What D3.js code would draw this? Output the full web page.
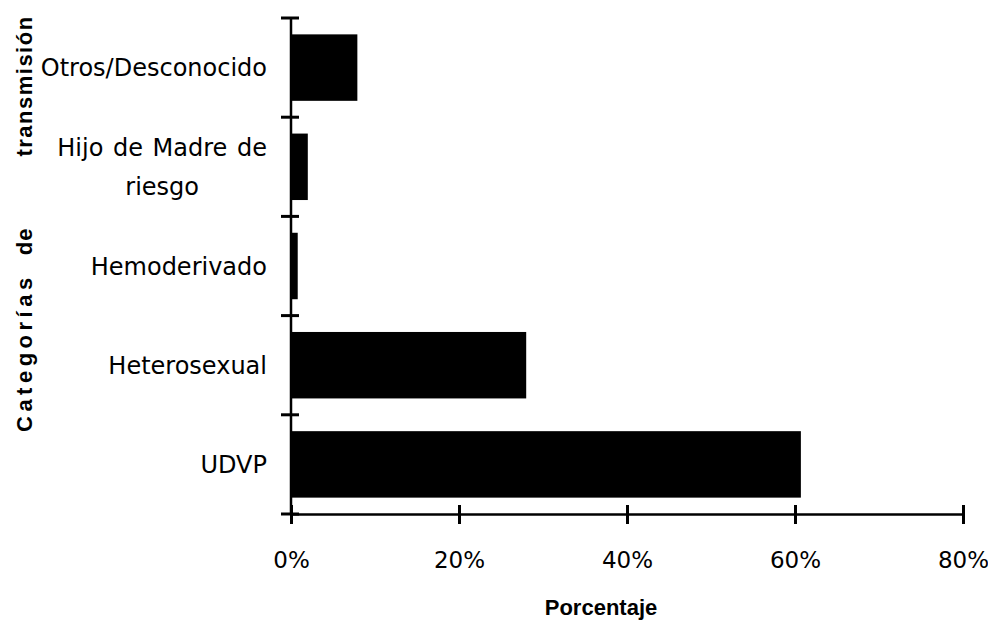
<!DOCTYPE html>
<html>
<head>
<meta charset="utf-8">
<script src="https://cdn.jsdelivr.net/npm/d3@7"></script>
<style>
  html, body { margin: 0; padding: 0; background: #fff; }
  svg { display: block; }
</style>
</head>
<body>
<svg id="chart" width="988" height="625"></svg>
<script>
// ---- data ----
const categories = ["Otros/Desconocido", "Hijo de Madre de\nriesgo", "Hemoderivado", "Heterosexual", "UDVP"];
const values = [7.9, 2.0, 0.8, 28.0, 60.7];
const xTicks = [0, 20, 40, 60, 80];
const xTitle = "Porcentaje";
const yTitleWords = ["Categorías", "de", "transmisión"];

// ---- layout ----
const svg = d3.select("#chart");
const plotLeft = 291, plotRight = 963, plotTop = 18, plotBottom = 514;

const x = d3.scaleLinear().domain([0, 80]).range([plotLeft, plotRight]);
const y = d3.scaleBand().domain(categories).range([plotTop, plotBottom]).paddingInner(0.33).paddingOuter(0.165);

// bars
svg.append("g").selectAll("rect").data(categories).join("rect")
  .attr("x", x(0))
  .attr("y", d => y(d))
  .attr("width", (d, i) => x(values[i]) - x(0))
  .attr("height", y.bandwidth())
  .attr("fill", "#000");

// y axis line
svg.append("line").attr("x1", plotLeft).attr("x2", plotLeft).attr("y1", plotTop).attr("y2", plotBottom)
  .attr("stroke", "#000").attr("stroke-width", 2.5);
// y axis ticks at band boundaries
const yBounds = d3.range(categories.length + 1).map(i => plotTop + i * (plotBottom - plotTop) / categories.length);
svg.append("g").selectAll("line").data(yBounds).join("line")
  .attr("x1", plotLeft - 10).attr("x2", plotLeft + 8)
  .attr("y1", d => d).attr("y2", d => d)
  .attr("stroke", "#000").attr("stroke-width", 3);

// x axis
const xAxis = d3.axisBottom(x).tickValues(xTicks).tickFormat(d => d + "%").tickSize(0).tickPadding(0);
const gx = svg.append("g").attr("transform", `translate(0,${plotBottom})`).call(xAxis);
gx.select(".domain").attr("stroke", "#000").attr("stroke-width", 2.5);
gx.selectAll(".tick text").remove();
gx.selectAll(".tick").append("line")
  .attr("y1", -9).attr("y2", 10).attr("stroke", "#000").attr("stroke-width", 3);
gx.selectAll(".tick").append("text")
  .attr("y", 54)
  .attr("text-anchor", "middle")
  .attr("fill", "#000")
  .style("font-family", "'DejaVu Sans', sans-serif")
  .style("font-size", "23px")
  .text(d => d + "%");

// category labels
const labelRight = 267;
const lg = svg.append("g");
categories.forEach((c, i) => {
  const lines = c.split("\n");
  const cy = y(c) + y.bandwidth() / 2;
  const lh = 39;
  const t = lg.append("text")
    .attr("fill", "#000")
    .style("font-family", "'DejaVu Sans', sans-serif")
    .style("font-size", "24px");
  if (lines.length === 1) {
    t.attr("x", labelRight).attr("y", cy).attr("dy", "0.36em").attr("text-anchor", "end").text(c);
  } else {
    lines.forEach((ln, j) => {
      t.append("tspan").attr("x", 0).attr("y", cy + (j - (lines.length - 1) / 2) * lh).attr("dy", "0.36em").text(ln);
    });
    t.style("word-spacing", "2px");
    const w = d3.max(t.selectAll("tspan").nodes(), n => n.getComputedTextLength());
    t.attr("text-anchor", "middle");
    t.selectAll("tspan").attr("x", labelRight - w / 2);
  }
});

// x title
svg.append("text")
  .attr("x", 601).attr("y", 615)
  .attr("text-anchor", "middle")
  .attr("fill", "#000")
  .style("font-family", "'Liberation Sans', Arial, sans-serif")
  .style("font-weight", "bold")
  .style("font-size", "22px")
  .text(xTitle);

// y title: words spread along the axis, as in the original
const yt = svg.append("text")
  .attr("transform", "translate(32,432) rotate(-90)")
  .attr("text-anchor", "start")
  .attr("fill", "#000")
  .style("font-family", "'Liberation Sans', Arial, sans-serif")
  .style("font-weight", "bold")
  .style("font-size", "22px");
const wordSpacing = [0, 18, 71];
const letterSpacing = [4.5, 1, 1.5];
yTitleWords.forEach((w, i) => {
  yt.append("tspan").attr("dx", wordSpacing[i]).style("letter-spacing", letterSpacing[i] + "px").text(w);
});
</script>
</body>
</html>
